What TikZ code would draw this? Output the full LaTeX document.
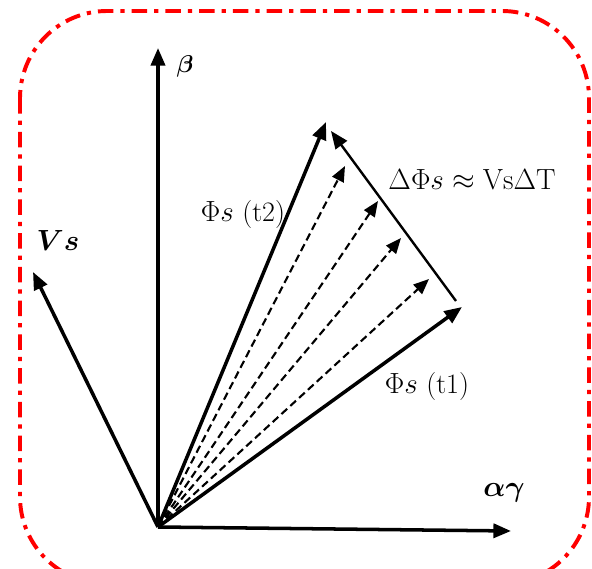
\documentclass[tikz,border=0pt]{standalone}
\usepackage{amsmath,bm}
\usetikzlibrary{arrows.meta}
\tikzset{vec/.style={line width=2.5pt, -{Triangle[length=12.5pt,width=10pt]}}}
\tikzset{dvec/.style={line width=1.5pt, dash pattern=on 5.5pt off 3pt, -{Triangle[length=11pt,width=9pt]}}}
\tikzset{lbl/.style={inner sep=0, font=\fontsize{20}{24}\selectfont}}

\begin{document}
\begin{tikzpicture}[x=0.025cm, y=-0.025cm]
      \useasboundingbox (0,0) rectangle (592,569);
      % frame
      \draw[red, line width=2.8pt, rounded corners=62pt, dash pattern=on 11pt off 5pt on 3pt off 5pt] (20,11) rectangle (589,584);
      \coordinate (O) at (158,527);
      \coordinate (beta) at (158,48);
      \coordinate (alpha) at (511,531);
      \coordinate (vs) at (33,272);
      \coordinate (t1) at (462,307);
      \coordinate (t2) at (326,122);
      \coordinate (d1) at (345,166);
      \coordinate (d2) at (378,201);
      \coordinate (d3) at (401,238);
      \coordinate (d4) at (429,279);
      \coordinate (dstart) at (456,301);
      \coordinate (dend) at (331,131);
      % axes and vectors
      \draw[vec] (O) -- (beta);
      \draw[vec] (O) -- (alpha);
      \draw[vec] (O) -- (vs);
      \draw[vec] (O) -- (t1);
      \draw[vec] (O) -- (t2);
      \foreach \d in {d1,d2,d3,d4}
        \draw[dvec] (O) -- (\d);
      \draw[line width=1.7pt, -{Triangle[length=12.5pt,width=10pt]}] (dstart) -- (dend);
      % labels
      \node[lbl, font=\fontsize{19}{22}\selectfont] (lbeta) at (185,66) {$\bm{\beta}$};
      \node[lbl] (lvs) at (58,240) {$\bm{Vs}$};
      \node[lbl] (lalpha) at (504,493) {$\bm{\alpha\gamma}$};
      \node[lbl, font=\fontsize{21}{25}\selectfont] (ldelta) at (472,180) {$\Delta\Phi s \approx \mathrm{Vs}\Delta\mathrm{T}$};
      \node[lbl] (lt2) at (243,214) {$\Phi s$ (t2)};
      \node[lbl] (lt1) at (427,386) {$\Phi s$ (t1)};
\end{tikzpicture}
\end{document}
